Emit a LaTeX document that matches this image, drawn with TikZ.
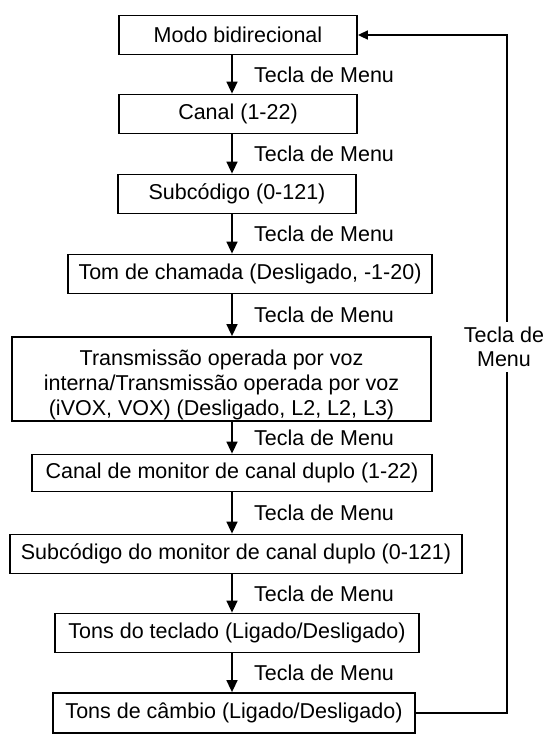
\documentclass[tikz,border=0pt]{standalone}
\usepackage{fontspec}
\setmainfont{Liberation Sans}
\usetikzlibrary{arrows.meta,positioning}

\begin{document}
\begin{tikzpicture}[x=1pt,y=1pt,
  menubox/.style={draw, line width=1.8pt, minimum height=39pt, inner sep=2pt, align=center,
    font=\fontsize{21.5}{25}\selectfont},
  flow/.style={line width=1.6pt, -{Triangle[length=12pt,width=11pt]}},
  key/.style={right, font=\fontsize{21.5}{24}\selectfont, xshift=18pt}]
\useasboundingbox (0,0) rectangle (548,-737);
\coordinate (spine) at (232,0);
\coordinate (loop) at (507,0);
\node[menubox, minimum width=238pt] (b1) at (238,-35) {Modo bidirecional};
\node[menubox, minimum width=238pt] (b2) at (238,-114) {Canal (1-22)};
\node[menubox, minimum width=238pt] (b3) at (237,-194) {Subcódigo (0-121)};
\node[menubox, minimum width=364pt] (b4) at (250,-274) {Tom de chamada (Desligado, -1-20)};
\node[menubox, minimum width=419pt, minimum height=84pt, inner ysep=0pt] (b5) at (221.5,-379)
  {\rule{0pt}{27pt}Transmissão operada por voz\\interna/Transmissão operada por voz\\(iVOX, VOX) (Desligado, L2, L2, L3)};
\node[menubox, minimum width=400pt, minimum height=37pt] (b6) at (232,-473) {Canal de monitor de canal duplo (1-22)};
\node[menubox, minimum width=452pt] (b7) at (236,-554) {Subcódigo do monitor de canal duplo (0-121)};
\node[menubox, minimum width=364pt] (b8) at (237,-633) {Tons do teclado (Ligado/Desligado)};
\node[menubox, minimum width=362pt, minimum height=40pt] (b9) at (234,-713) {Tons de câmbio (Ligado/Desligado)};
% passos do menu
\foreach \a/\b in {b1/b2,b2/b3,b3/b4,b4/b5,b5/b6,b6/b7,b7/b8,b8/b9}
  \draw[flow] (\a.south -| spine) -- (\b.north -| spine) node[key, midway] {Tecla de Menu};
% volta ao inicio
\node[fill=white, align=center, inner sep=5pt, font=\fontsize{21.5}{24}\selectfont] (back) at (504,-347) {Tecla de\\Menu};
\draw[line width=1.6pt] (b9.east) -- (b9.east -| loop) -- (back.south -| loop);
\draw[line width=1.6pt, -{Triangle[length=10pt,width=9pt]}] (back.north -| loop) -- (b1.east -| loop) -- (b1.east);
\end{tikzpicture}
\end{document}
